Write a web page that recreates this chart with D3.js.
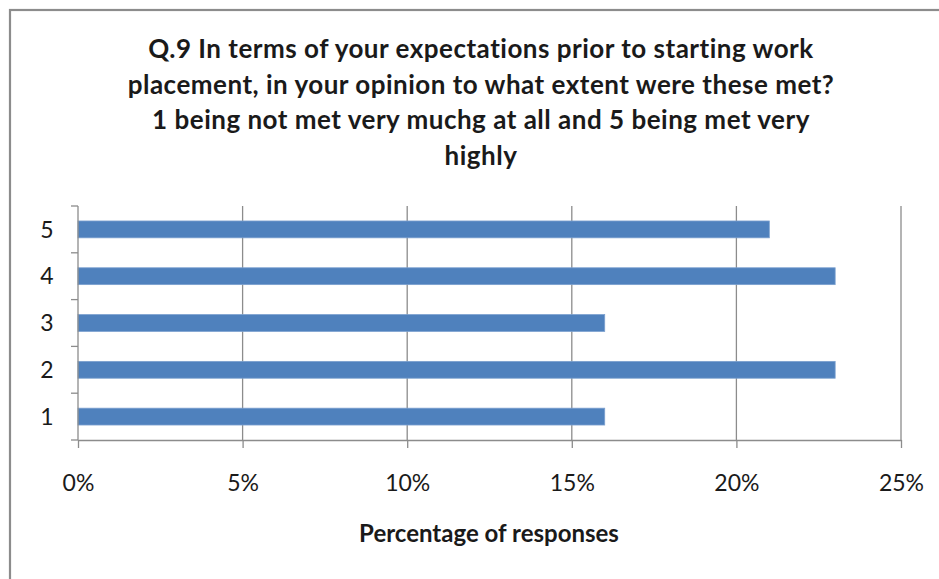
<!DOCTYPE html>
<html>
<head>
<meta charset="utf-8">
<title>Q.9 expectations</title>
<style>
  body { margin: 0; background: #fff; }
  text { font-family: Lato, "Open Sans", sans-serif; fill: #1a1a1a; }
  .grid line { stroke: #8c8c8c; stroke-width: 1.3; }
  .axis path, .axis line { stroke: #8c8c8c; stroke-width: 1.3; }
</style>
</head>
<body>
<script src="https://d3js.org/d3.v7.min.js"></script>
<script>
// data
var categories = ["1", "2", "3", "4", "5"];
var values = [0.16, 0.23, 0.16, 0.23, 0.21];
var xTicks = [0, 0.05, 0.10, 0.15, 0.20, 0.25];
var titleLines = [
  "Q.9 In terms of your expectations prior to starting work",
  "placement, in your opinion to what extent were these met?",
  "1 being not met very muchg at all and 5 being met very",
  "highly"
];
var xTitle = "Percentage of responses";

var W = 939, H = 579;
var margin = {left: 78, top: 206, right: 38, bottom: 139};

var svg = d3.select("body").append("svg")
  .attr("width", W)
  .attr("height", H);

// outer frame (right/bottom run off the picture)
svg.append("rect")
  .attr("x", 10).attr("y", 10)
  .attr("width", W + 20).attr("height", H + 20)
  .attr("fill", "none")
  .attr("stroke", "#8c8c8c")
  .attr("stroke-width", 2.2);

var x = d3.scaleLinear()
  .domain([0, 0.25])
  .range([margin.left, W - margin.right]);

var y = d3.scaleBand()
  .domain(categories.slice().reverse())
  .range([margin.top, H - margin.bottom])
  .paddingInner(0.64)
  .paddingOuter(0.32);

// vertical gridlines
svg.append("g")
  .attr("class", "grid")
  .selectAll("line")
  .data(xTicks.slice(1))
  .enter().append("line")
  .attr("x1", function(d) { return x(d); })
  .attr("x2", function(d) { return x(d); })
  .attr("y1", margin.top)
  .attr("y2", H - margin.bottom);

// bars
svg.append("g")
  .selectAll("rect")
  .data(values)
  .enter().append("rect")
  .attr("x", x(0))
  .attr("y", function(d, i) { return y(categories[i]); })
  .attr("width", function(d) { return x(d) - x(0); })
  .attr("height", y.bandwidth())
  .attr("fill", "#4f81bd")
  .attr("stroke", "#7ba0cf")
  .attr("stroke-width", 0.8);

// x axis
var xAxis = d3.axisBottom(x)
  .tickValues(xTicks)
  .tickFormat(d3.format(".0%"))
  .tickSize(8)
  .tickSizeOuter(0)
  .tickPadding(27);
var gx = svg.append("g")
  .attr("class", "axis")
  .attr("transform", "translate(0," + (H - margin.bottom) + ")")
  .call(xAxis);
gx.selectAll("text").style("font-size", "23px").attr("fill", "#1a1a1a");

// y axis: ticks sit between categories
var yBand = d3.scaleLinear().domain([0, 5]).range([H - margin.bottom, margin.top]);
var gy = svg.append("g")
  .attr("class", "axis")
  .attr("transform", "translate(" + margin.left + ",0)");
gy.append("line")
  .attr("x1", 0).attr("x2", 0)
  .attr("y1", yBand(5)).attr("y2", yBand(0));
gy.selectAll(".tk")
  .data(d3.range(6))
  .enter().append("line")
  .attr("x1", -7).attr("x2", 0)
  .attr("y1", function(d) { return yBand(d); })
  .attr("y2", function(d) { return yBand(d); });
gy.selectAll("text")
  .data(categories)
  .enter().append("text")
  .attr("x", -31)
  .attr("y", function(d) { return y(d) + y.bandwidth() / 2; })
  .attr("dy", "0.36em")
  .attr("text-anchor", "middle")
  .style("font-size", "23px")
  .text(function(d) { return d; });

// title
svg.append("g")
  .selectAll("text")
  .data(titleLines)
  .enter().append("text")
  .attr("x", 481)
  .attr("y", function(d, i) { return 58 + i * 35.5; })
  .attr("text-anchor", "middle")
  .style("font-size", "26px")
  .style("letter-spacing", "0.5px")
  .style("font-weight", "bold")
  .text(function(d) { return d; });

// axis title
svg.append("text")
  .attr("x", 489)
  .attr("y", 542)
  .attr("text-anchor", "middle")
  .style("font-size", "24px")
  .style("font-weight", "bold")
  .text(xTitle);
</script>
</body>
</html>
